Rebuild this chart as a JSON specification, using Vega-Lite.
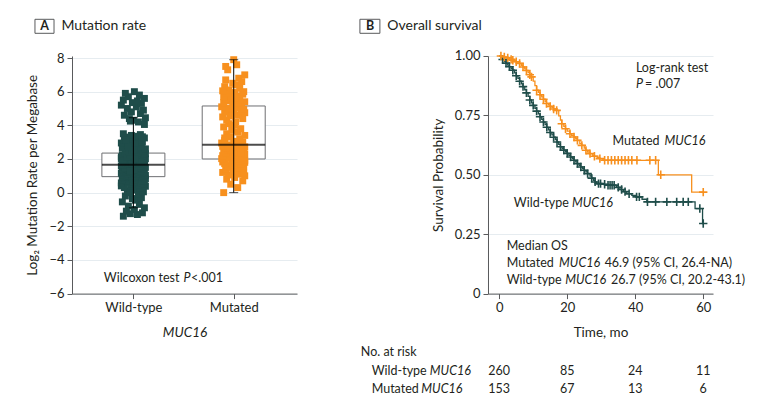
{
"$schema": "https://vega.github.io/schema/vega-lite/v6.json",
"padding": {"left": 25, "top": 18, "right": 5, "bottom": 5},
"bounds": "flush",
"spacing": 191,
"config": {
  "font": "Lato",
  "view": {"stroke": null},
  "axis": {"labelFont": "Lato", "labelFontSize": 13, "labelColor": "#231f20", "titleFont": "Lato", "titleFontSize": 13.5, "titleFontWeight": "normal", "titleColor": "#231f20", "domainColor": "#58595b", "tickColor": "#58595b", "gridColor": "#e6ecf0", "tickSize": 5, "labelPadding": 3, "labelOverlap": false},
  "text": {"font": "Lato", "fontSize": 12.5, "color": "#231f20"}
},
"datasets": {
  "boxes": [
    {"group": "Wild-type", "pos": 1, "lo": -0.9, "q1": 0.95, "med": 1.65, "q3": 2.35, "hi": 4.45},
    {"group": "Mutated", "pos": 2, "lo": 0.0, "q1": 2.0, "med": 2.85, "q3": 5.15, "hi": 7.9}
  ],
  "points": [
    {"group":"Wild-type","pos":0.90,"value":-1.4},{"group":"Wild-type","pos":1.04,"value":-1.3},{"group":"Wild-type","pos":0.97,"value":-1.25},{"group":"Wild-type","pos":1.09,"value":-1.2},{"group":"Wild-type","pos":0.93,"value":-1.1},{"group":"Wild-type","pos":1.01,"value":-1.0},{"group":"Wild-type","pos":1.11,"value":-0.9},{"group":"Wild-type","pos":0.95,"value":-0.8},{"group":"Wild-type","pos":1.06,"value":-0.7},{"group":"Wild-type","pos":0.89,"value":-0.55},{"group":"Wild-type","pos":1.02,"value":-0.45},{"group":"Wild-type","pos":0.99,"value":-0.35},{"group":"Wild-type","pos":1.08,"value":-0.3},{"group":"Wild-type","pos":0.92,"value":-0.2},{"group":"Wild-type","pos":1.05,"value":-0.1},{"group":"Wild-type","pos":0.96,"value":0.0},{"group":"Wild-type","pos":1.10,"value":0.05},{"group":"Wild-type","pos":0.94,"value":0.1},{"group":"Wild-type","pos":1.03,"value":0.15},{"group":"Wild-type","pos":1.00,"value":0.2},{"group":"Wild-type","pos":1.07,"value":0.25},{"group":"Wild-type","pos":0.91,"value":0.3},{"group":"Wild-type","pos":0.98,"value":0.32},{"group":"Wild-type","pos":1.12,"value":0.38},{"group":"Wild-type","pos":0.88,"value":0.4},
    {"group":"Wild-type","pos":1.06,"value":0.45},{"group":"Wild-type","pos":0.91,"value":0.48},{"group":"Wild-type","pos":1.11,"value":0.5},{"group":"Wild-type","pos":0.98,"value":0.52},{"group":"Wild-type","pos":1.03,"value":0.55},{"group":"Wild-type","pos":0.88,"value":0.58},{"group":"Wild-type","pos":1.08,"value":0.6},{"group":"Wild-type","pos":0.95,"value":0.62},{"group":"Wild-type","pos":1.00,"value":0.65},{"group":"Wild-type","pos":1.10,"value":0.67},{"group":"Wild-type","pos":0.93,"value":0.7},{"group":"Wild-type","pos":1.04,"value":0.72},{"group":"Wild-type","pos":0.89,"value":0.74},{"group":"Wild-type","pos":1.01,"value":0.76},{"group":"Wild-type","pos":1.09,"value":0.78},{"group":"Wild-type","pos":0.96,"value":0.8},{"group":"Wild-type","pos":1.12,"value":0.82},{"group":"Wild-type","pos":0.92,"value":0.84},{"group":"Wild-type","pos":1.05,"value":0.86},{"group":"Wild-type","pos":0.99,"value":0.88},{"group":"Wild-type","pos":1.07,"value":0.9},{"group":"Wild-type","pos":0.90,"value":0.92},{"group":"Wild-type","pos":1.02,"value":0.93},{"group":"Wild-type","pos":0.94,"value":0.94},{"group":"Wild-type","pos":0.97,"value":0.0},
    {"group":"Wild-type","pos":0.96,"value":0.96},{"group":"Wild-type","pos":1.10,"value":0.98},{"group":"Wild-type","pos":0.92,"value":1.0},{"group":"Wild-type","pos":1.02,"value":1.01},{"group":"Wild-type","pos":1.12,"value":1.03},{"group":"Wild-type","pos":0.89,"value":1.05},{"group":"Wild-type","pos":1.05,"value":1.06},{"group":"Wild-type","pos":0.99,"value":1.08},{"group":"Wild-type","pos":1.08,"value":1.1},{"group":"Wild-type","pos":0.94,"value":1.11},{"group":"Wild-type","pos":1.03,"value":1.13},{"group":"Wild-type","pos":0.88,"value":1.15},{"group":"Wild-type","pos":1.09,"value":1.16},{"group":"Wild-type","pos":1.00,"value":1.18},{"group":"Wild-type","pos":0.91,"value":1.2},{"group":"Wild-type","pos":1.06,"value":1.21},{"group":"Wild-type","pos":0.97,"value":1.23},{"group":"Wild-type","pos":1.11,"value":1.25},{"group":"Wild-type","pos":0.93,"value":1.26},{"group":"Wild-type","pos":1.04,"value":1.28},{"group":"Wild-type","pos":0.98,"value":1.3},{"group":"Wild-type","pos":1.07,"value":1.31},{"group":"Wild-type","pos":0.90,"value":1.33},{"group":"Wild-type","pos":1.01,"value":1.35},{"group":"Wild-type","pos":0.95,"value":1.36},
    {"group":"Wild-type","pos":1.02,"value":1.38},{"group":"Wild-type","pos":0.93,"value":1.4},{"group":"Wild-type","pos":1.09,"value":1.41},{"group":"Wild-type","pos":0.89,"value":1.43},{"group":"Wild-type","pos":1.05,"value":1.45},{"group":"Wild-type","pos":1.00,"value":1.46},{"group":"Wild-type","pos":0.96,"value":1.48},{"group":"Wild-type","pos":1.12,"value":1.5},{"group":"Wild-type","pos":0.91,"value":1.51},{"group":"Wild-type","pos":1.07,"value":1.52},{"group":"Wild-type","pos":0.98,"value":1.54},{"group":"Wild-type","pos":1.10,"value":1.55},{"group":"Wild-type","pos":0.94,"value":1.56},{"group":"Wild-type","pos":1.03,"value":1.58},{"group":"Wild-type","pos":0.88,"value":1.59},{"group":"Wild-type","pos":1.08,"value":1.6},{"group":"Wild-type","pos":0.99,"value":1.61},{"group":"Wild-type","pos":1.04,"value":1.62},{"group":"Wild-type","pos":0.90,"value":1.63},{"group":"Wild-type","pos":1.11,"value":1.64},{"group":"Wild-type","pos":0.95,"value":1.64},{"group":"Wild-type","pos":1.06,"value":1.57},{"group":"Wild-type","pos":0.92,"value":1.47},{"group":"Wild-type","pos":1.01,"value":1.37},{"group":"Wild-type","pos":0.97,"value":1.27},
    {"group":"Wild-type","pos":0.90,"value":1.66},{"group":"Wild-type","pos":1.04,"value":1.68},{"group":"Wild-type","pos":0.97,"value":1.69},{"group":"Wild-type","pos":1.09,"value":1.7},{"group":"Wild-type","pos":0.93,"value":1.72},{"group":"Wild-type","pos":1.01,"value":1.73},{"group":"Wild-type","pos":1.11,"value":1.75},{"group":"Wild-type","pos":0.95,"value":1.76},{"group":"Wild-type","pos":1.06,"value":1.78},{"group":"Wild-type","pos":0.89,"value":1.79},{"group":"Wild-type","pos":1.02,"value":1.8},{"group":"Wild-type","pos":0.99,"value":1.82},{"group":"Wild-type","pos":1.08,"value":1.84},{"group":"Wild-type","pos":0.92,"value":1.85},{"group":"Wild-type","pos":1.05,"value":1.87},{"group":"Wild-type","pos":0.96,"value":1.88},{"group":"Wild-type","pos":1.10,"value":1.9},{"group":"Wild-type","pos":0.94,"value":1.92},{"group":"Wild-type","pos":1.03,"value":1.93},{"group":"Wild-type","pos":1.00,"value":1.95},{"group":"Wild-type","pos":1.07,"value":1.96},{"group":"Wild-type","pos":0.91,"value":1.98},{"group":"Wild-type","pos":0.98,"value":2.0},{"group":"Wild-type","pos":1.12,"value":2.01},{"group":"Wild-type","pos":0.88,"value":2.03},
    {"group":"Wild-type","pos":1.06,"value":2.05},{"group":"Wild-type","pos":0.91,"value":2.06},{"group":"Wild-type","pos":1.11,"value":2.08},{"group":"Wild-type","pos":0.98,"value":2.1},{"group":"Wild-type","pos":1.03,"value":2.11},{"group":"Wild-type","pos":0.88,"value":2.13},{"group":"Wild-type","pos":1.08,"value":2.15},{"group":"Wild-type","pos":0.95,"value":2.16},{"group":"Wild-type","pos":1.00,"value":2.18},{"group":"Wild-type","pos":1.10,"value":2.2},{"group":"Wild-type","pos":0.93,"value":2.21},{"group":"Wild-type","pos":1.04,"value":2.23},{"group":"Wild-type","pos":0.89,"value":2.25},{"group":"Wild-type","pos":1.01,"value":2.26},{"group":"Wild-type","pos":1.09,"value":2.28},{"group":"Wild-type","pos":0.96,"value":2.3},{"group":"Wild-type","pos":1.12,"value":2.31},{"group":"Wild-type","pos":0.92,"value":2.33},{"group":"Wild-type","pos":1.05,"value":2.34},{"group":"Wild-type","pos":0.99,"value":1.71},{"group":"Wild-type","pos":1.07,"value":1.81},{"group":"Wild-type","pos":0.90,"value":1.91},{"group":"Wild-type","pos":1.02,"value":2.02},{"group":"Wild-type","pos":0.94,"value":2.12},{"group":"Wild-type","pos":0.97,"value":2.22},
    {"group":"Wild-type","pos":0.96,"value":2.4},{"group":"Wild-type","pos":1.10,"value":2.45},{"group":"Wild-type","pos":0.92,"value":2.5},{"group":"Wild-type","pos":1.02,"value":2.55},{"group":"Wild-type","pos":1.12,"value":2.6},{"group":"Wild-type","pos":0.89,"value":2.65},{"group":"Wild-type","pos":1.05,"value":2.7},{"group":"Wild-type","pos":0.99,"value":2.75},{"group":"Wild-type","pos":1.08,"value":2.8},{"group":"Wild-type","pos":0.94,"value":2.85},{"group":"Wild-type","pos":1.03,"value":2.9},{"group":"Wild-type","pos":0.88,"value":2.95},{"group":"Wild-type","pos":1.09,"value":3.0},{"group":"Wild-type","pos":1.00,"value":3.05},{"group":"Wild-type","pos":0.91,"value":3.1},{"group":"Wild-type","pos":1.06,"value":3.15},{"group":"Wild-type","pos":0.97,"value":3.2},{"group":"Wild-type","pos":1.11,"value":3.25},{"group":"Wild-type","pos":0.93,"value":3.3},{"group":"Wild-type","pos":1.04,"value":3.35},{"group":"Wild-type","pos":0.98,"value":3.4},{"group":"Wild-type","pos":1.07,"value":3.45},{"group":"Wild-type","pos":0.90,"value":3.5},{"group":"Wild-type","pos":1.01,"value":2.52},{"group":"Wild-type","pos":0.95,"value":2.72},
    {"group":"Wild-type","pos":1.02,"value":2.92},{"group":"Wild-type","pos":0.93,"value":3.12},{"group":"Wild-type","pos":1.09,"value":3.32},{"group":"Wild-type","pos":1.11,"value":4.05},{"group":"Wild-type","pos":1.05,"value":4.2},{"group":"Wild-type","pos":1.00,"value":4.3},{"group":"Wild-type","pos":0.96,"value":4.4},{"group":"Wild-type","pos":1.12,"value":4.45},{"group":"Wild-type","pos":0.91,"value":4.6},{"group":"Wild-type","pos":1.07,"value":4.7},{"group":"Wild-type","pos":0.98,"value":4.8},{"group":"Wild-type","pos":1.10,"value":4.9},{"group":"Wild-type","pos":0.94,"value":5.0},{"group":"Wild-type","pos":1.03,"value":5.1},{"group":"Wild-type","pos":0.88,"value":5.2},{"group":"Wild-type","pos":1.08,"value":5.3},{"group":"Wild-type","pos":0.99,"value":5.35},{"group":"Wild-type","pos":1.04,"value":5.45},{"group":"Wild-type","pos":0.90,"value":5.5},{"group":"Wild-type","pos":1.11,"value":5.6},{"group":"Wild-type","pos":0.95,"value":5.7},{"group":"Wild-type","pos":1.06,"value":5.8},{"group":"Wild-type","pos":0.92,"value":5.9},{"group":"Wild-type","pos":1.01,"value":6.0},{"group":"Wild-type","pos":0.97,"value":4.25},
    {"group":"Mutated","pos":1.90,"value":0.0},{"group":"Mutated","pos":2.04,"value":0.3},{"group":"Mutated","pos":1.97,"value":0.5},{"group":"Mutated","pos":2.09,"value":0.7},{"group":"Mutated","pos":1.93,"value":0.8},{"group":"Mutated","pos":2.01,"value":0.9},{"group":"Mutated","pos":2.11,"value":1.0},{"group":"Mutated","pos":1.95,"value":1.05},{"group":"Mutated","pos":2.06,"value":1.1},{"group":"Mutated","pos":1.89,"value":1.2},{"group":"Mutated","pos":2.02,"value":1.25},{"group":"Mutated","pos":1.99,"value":1.3},{"group":"Mutated","pos":2.08,"value":1.35},{"group":"Mutated","pos":1.92,"value":1.4},{"group":"Mutated","pos":2.05,"value":1.45},{"group":"Mutated","pos":1.96,"value":1.5},{"group":"Mutated","pos":2.10,"value":1.55},{"group":"Mutated","pos":1.94,"value":1.6},{"group":"Mutated","pos":2.03,"value":1.62},{"group":"Mutated","pos":2.00,"value":1.65},{"group":"Mutated","pos":2.07,"value":1.7},{"group":"Mutated","pos":1.91,"value":1.72},{"group":"Mutated","pos":1.98,"value":1.75},{"group":"Mutated","pos":2.11,"value":1.8},{"group":"Mutated","pos":1.89,"value":1.82},
    {"group":"Mutated","pos":2.06,"value":1.85},{"group":"Mutated","pos":1.91,"value":1.9},{"group":"Mutated","pos":2.11,"value":1.92},{"group":"Mutated","pos":1.98,"value":1.95},{"group":"Mutated","pos":2.03,"value":1.98},{"group":"Mutated","pos":1.88,"value":2.02},{"group":"Mutated","pos":2.08,"value":2.05},{"group":"Mutated","pos":1.95,"value":2.08},{"group":"Mutated","pos":2.00,"value":2.1},{"group":"Mutated","pos":2.10,"value":2.13},{"group":"Mutated","pos":1.93,"value":2.15},{"group":"Mutated","pos":2.04,"value":2.18},{"group":"Mutated","pos":1.89,"value":2.2},{"group":"Mutated","pos":2.01,"value":2.23},{"group":"Mutated","pos":2.09,"value":2.25},{"group":"Mutated","pos":1.96,"value":2.28},{"group":"Mutated","pos":2.11,"value":2.3},{"group":"Mutated","pos":1.92,"value":2.33},{"group":"Mutated","pos":2.05,"value":2.36},{"group":"Mutated","pos":1.99,"value":2.4},{"group":"Mutated","pos":2.07,"value":2.43},{"group":"Mutated","pos":1.90,"value":2.46},{"group":"Mutated","pos":2.02,"value":2.5},{"group":"Mutated","pos":1.94,"value":2.53},{"group":"Mutated","pos":1.97,"value":2.56},
    {"group":"Mutated","pos":1.96,"value":2.6},{"group":"Mutated","pos":2.10,"value":2.63},{"group":"Mutated","pos":1.92,"value":2.66},{"group":"Mutated","pos":2.02,"value":2.7},{"group":"Mutated","pos":2.11,"value":2.72},{"group":"Mutated","pos":1.89,"value":2.75},{"group":"Mutated","pos":2.05,"value":2.78},{"group":"Mutated","pos":1.99,"value":2.8},{"group":"Mutated","pos":2.08,"value":2.82},{"group":"Mutated","pos":1.94,"value":2.84},{"group":"Mutated","pos":2.03,"value":2.9},{"group":"Mutated","pos":1.88,"value":2.95},{"group":"Mutated","pos":2.09,"value":3.0},{"group":"Mutated","pos":2.00,"value":3.05},{"group":"Mutated","pos":1.91,"value":3.1},{"group":"Mutated","pos":2.06,"value":3.2},{"group":"Mutated","pos":1.97,"value":3.3},{"group":"Mutated","pos":2.11,"value":3.4},{"group":"Mutated","pos":1.93,"value":3.5},{"group":"Mutated","pos":2.04,"value":3.6},{"group":"Mutated","pos":1.98,"value":3.7},{"group":"Mutated","pos":2.07,"value":3.8},{"group":"Mutated","pos":1.90,"value":3.9},{"group":"Mutated","pos":2.01,"value":4.0},{"group":"Mutated","pos":1.95,"value":4.1},
    {"group":"Mutated","pos":2.02,"value":4.2},{"group":"Mutated","pos":1.93,"value":4.3},{"group":"Mutated","pos":2.09,"value":4.4},{"group":"Mutated","pos":1.89,"value":4.5},{"group":"Mutated","pos":2.05,"value":4.6},{"group":"Mutated","pos":2.00,"value":4.65},{"group":"Mutated","pos":1.96,"value":4.7},{"group":"Mutated","pos":2.11,"value":4.75},{"group":"Mutated","pos":1.91,"value":4.8},{"group":"Mutated","pos":2.07,"value":4.85},{"group":"Mutated","pos":1.98,"value":4.9},{"group":"Mutated","pos":2.10,"value":4.95},{"group":"Mutated","pos":1.94,"value":5.0},{"group":"Mutated","pos":2.03,"value":5.05},{"group":"Mutated","pos":1.88,"value":5.1},{"group":"Mutated","pos":2.08,"value":5.2},{"group":"Mutated","pos":1.99,"value":5.25},{"group":"Mutated","pos":2.04,"value":5.3},{"group":"Mutated","pos":1.90,"value":5.35},{"group":"Mutated","pos":2.11,"value":5.4},{"group":"Mutated","pos":1.95,"value":5.45},{"group":"Mutated","pos":2.06,"value":5.5},{"group":"Mutated","pos":1.92,"value":5.55},{"group":"Mutated","pos":2.01,"value":5.6},{"group":"Mutated","pos":1.97,"value":5.65},
    {"group":"Mutated","pos":1.90,"value":5.7},{"group":"Mutated","pos":2.04,"value":5.75},{"group":"Mutated","pos":1.97,"value":5.8},{"group":"Mutated","pos":2.09,"value":5.85},{"group":"Mutated","pos":1.93,"value":5.9},{"group":"Mutated","pos":2.01,"value":5.95},{"group":"Mutated","pos":2.10,"value":6.0},{"group":"Mutated","pos":1.95,"value":6.1},{"group":"Mutated","pos":2.06,"value":6.2},{"group":"Mutated","pos":1.91,"value":6.3},{"group":"Mutated","pos":2.02,"value":6.4},{"group":"Mutated","pos":1.99,"value":6.5},{"group":"Mutated","pos":2.08,"value":6.6},{"group":"Mutated","pos":1.92,"value":6.7},{"group":"Mutated","pos":2.05,"value":6.8},{"group":"Mutated","pos":2.11,"value":7.0},{"group":"Mutated","pos":1.94,"value":7.3},{"group":"Mutated","pos":1.92,"value":7.5},{"group":"Mutated","pos":2.03,"value":7.6},{"group":"Mutated","pos":2.00,"value":7.9},{"group":"Mutated","pos":2.07,"value":2.35},{"group":"Mutated","pos":1.91,"value":3.25},{"group":"Mutated","pos":1.98,"value":4.55},{"group":"Mutated","pos":2.10,"value":1.15},{"group":"Mutated","pos":1.89,"value":6.05}
  ],
  "km": [
    {"group":"Wild-type","time":0,"surv":1,"censor":0},{"group":"Wild-type","time":0.5,"surv":0.992,"censor":0},{"group":"Wild-type","time":1,"surv":0.985,"censor":1},{"group":"Wild-type","time":1.5,"surv":0.977,"censor":0},{"group":"Wild-type","time":2,"surv":0.97,"censor":1},{"group":"Wild-type","time":2.5,"surv":0.962,"censor":0},{"group":"Wild-type","time":3,"surv":0.955,"censor":1},{"group":"Wild-type","time":3.5,"surv":0.947,"censor":0},{"group":"Wild-type","time":4,"surv":0.94,"censor":1},{"group":"Wild-type","time":4.5,"surv":0.929,"censor":0},{"group":"Wild-type","time":5,"surv":0.917,"censor":1},{"group":"Wild-type","time":5.5,"surv":0.906,"censor":0},{"group":"Wild-type","time":6,"surv":0.894,"censor":1},{"group":"Wild-type","time":6.5,"surv":0.883,"censor":0},{"group":"Wild-type","time":7,"surv":0.871,"censor":1},{"group":"Wild-type","time":7.5,"surv":0.858,"censor":0},{"group":"Wild-type","time":8,"surv":0.845,"censor":1},{"group":"Wild-type","time":8.5,"surv":0.83,"censor":0},{"group":"Wild-type","time":9,"surv":0.815,"censor":1},{"group":"Wild-type","time":9.5,"surv":0.803,"censor":0},{"group":"Wild-type","time":10,"surv":0.792,"censor":1},{"group":"Wild-type","time":10.5,"surv":0.78,"censor":0},{"group":"Wild-type","time":11,"surv":0.768,"censor":1},{"group":"Wild-type","time":11.5,"surv":0.756,"censor":0},{"group":"Wild-type","time":12,"surv":0.744,"censor":1},{"group":"Wild-type","time":12.5,"surv":0.733,"censor":0},{"group":"Wild-type","time":13,"surv":0.722,"censor":1},{"group":"Wild-type","time":13.5,"surv":0.711,"censor":0},{"group":"Wild-type","time":14,"surv":0.7,"censor":1},{"group":"Wild-type","time":14.5,"surv":0.689,"censor":0},{"group":"Wild-type","time":15,"surv":0.678,"censor":1},{"group":"Wild-type","time":15.5,"surv":0.668,"censor":0},{"group":"Wild-type","time":16,"surv":0.658,"censor":1},{"group":"Wild-type","time":16.5,"surv":0.648,"censor":0},{"group":"Wild-type","time":17,"surv":0.638,"censor":1},{"group":"Wild-type","time":17.5,"surv":0.628,"censor":0},{"group":"Wild-type","time":18,"surv":0.618,"censor":1},{"group":"Wild-type","time":18.5,"surv":0.611,"censor":0},{"group":"Wild-type","time":19,"surv":0.604,"censor":1},{"group":"Wild-type","time":19.5,"surv":0.597,"censor":0},{"group":"Wild-type","time":20,"surv":0.59,"censor":1},{"group":"Wild-type","time":20.5,"surv":0.582,"censor":0},{"group":"Wild-type","time":21,"surv":0.575,"censor":1},{"group":"Wild-type","time":21.5,"surv":0.568,"censor":0},{"group":"Wild-type","time":22,"surv":0.561,"censor":1},{"group":"Wild-type","time":22.5,"surv":0.554,"censor":0},{"group":"Wild-type","time":23,"surv":0.547,"censor":1},{"group":"Wild-type","time":23.5,"surv":0.54,"censor":0},{"group":"Wild-type","time":24,"surv":0.533,"censor":1},{"group":"Wild-type","time":24.5,"surv":0.526,"censor":0},{"group":"Wild-type","time":25,"surv":0.519,"censor":1},{"group":"Wild-type","time":25.5,"surv":0.512,"censor":0},{"group":"Wild-type","time":26,"surv":0.505,"censor":1},{"group":"Wild-type","time":26.7,"surv":0.495,"censor":0},{"group":"Wild-type","time":27.2,"surv":0.486,"censor":1},{"group":"Wild-type","time":27.7,"surv":0.477,"censor":0},{"group":"Wild-type","time":28.2,"surv":0.47,"censor":1},{"group":"Wild-type","time":28.6,"surv":0.463,"censor":0},{"group":"Wild-type","time":29.2,"surv":0.463,"censor":1},{"group":"Wild-type","time":29.8,"surv":0.463,"censor":1},{"group":"Wild-type","time":30.4,"surv":0.46,"censor":0},{"group":"Wild-type","time":31,"surv":0.46,"censor":1},{"group":"Wild-type","time":31.5,"surv":0.456,"censor":0},{"group":"Wild-type","time":32,"surv":0.456,"censor":1},{"group":"Wild-type","time":32.6,"surv":0.456,"censor":1},{"group":"Wild-type","time":33.2,"surv":0.456,"censor":1},{"group":"Wild-type","time":33.8,"surv":0.456,"censor":1},{"group":"Wild-type","time":34.5,"surv":0.447,"censor":0},{"group":"Wild-type","time":35,"surv":0.447,"censor":1},{"group":"Wild-type","time":35.5,"surv":0.438,"censor":0},{"group":"Wild-type","time":36,"surv":0.438,"censor":1},{"group":"Wild-type","time":36.5,"surv":0.429,"censor":0},{"group":"Wild-type","time":37,"surv":0.429,"censor":1},{"group":"Wild-type","time":37.5,"surv":0.42,"censor":0},{"group":"Wild-type","time":38.2,"surv":0.42,"censor":1},{"group":"Wild-type","time":39,"surv":0.413,"censor":0},{"group":"Wild-type","time":40.4,"surv":0.407,"censor":1},{"group":"Wild-type","time":41.2,"surv":0.407,"censor":1},{"group":"Wild-type","time":42,"surv":0.397,"censor":0},{"group":"Wild-type","time":43.4,"surv":0.386,"censor":0},{"group":"Wild-type","time":43.6,"surv":0.386,"censor":1},{"group":"Wild-type","time":46,"surv":0.386,"censor":1},{"group":"Wild-type","time":49.3,"surv":0.386,"censor":1},{"group":"Wild-type","time":52.2,"surv":0.386,"censor":1},{"group":"Wild-type","time":54.1,"surv":0.386,"censor":1},{"group":"Wild-type","time":55.6,"surv":0.386,"censor":1},{"group":"Wild-type","time":57.6,"surv":0.358,"censor":0},{"group":"Wild-type","time":59,"surv":0.358,"censor":1},{"group":"Wild-type","time":59.8,"surv":0.295,"censor":0},{"group":"Wild-type","time":60,"surv":0.295,"censor":1},
    {"group":"Mutated","time":0,"surv":1,"censor":0},{"group":"Mutated","time":0.5,"surv":1,"censor":1},{"group":"Mutated","time":1,"surv":0.996,"censor":0},{"group":"Mutated","time":1.5,"surv":0.996,"censor":1},{"group":"Mutated","time":2,"surv":0.992,"censor":0},{"group":"Mutated","time":2.5,"surv":0.992,"censor":1},{"group":"Mutated","time":3,"surv":0.986,"censor":0},{"group":"Mutated","time":3.5,"surv":0.986,"censor":1},{"group":"Mutated","time":4,"surv":0.982,"censor":1},{"group":"Mutated","time":4.5,"surv":0.976,"censor":0},{"group":"Mutated","time":5,"surv":0.976,"censor":1},{"group":"Mutated","time":5.5,"surv":0.969,"censor":0},{"group":"Mutated","time":6,"surv":0.969,"censor":1},{"group":"Mutated","time":6.5,"surv":0.961,"censor":0},{"group":"Mutated","time":7,"surv":0.954,"censor":1},{"group":"Mutated","time":7.5,"surv":0.946,"censor":0},{"group":"Mutated","time":8,"surv":0.939,"censor":1},{"group":"Mutated","time":8.5,"surv":0.93,"censor":0},{"group":"Mutated","time":9,"surv":0.921,"censor":1},{"group":"Mutated","time":9.5,"surv":0.912,"censor":1},{"group":"Mutated","time":10,"surv":0.894,"censor":0},{"group":"Mutated","time":10.5,"surv":0.875,"censor":0},{"group":"Mutated","time":11,"surv":0.856,"censor":1},{"group":"Mutated","time":11.5,"surv":0.847,"censor":0},{"group":"Mutated","time":12,"surv":0.837,"censor":1},{"group":"Mutated","time":12.5,"surv":0.828,"censor":0},{"group":"Mutated","time":13,"surv":0.818,"censor":1},{"group":"Mutated","time":13.5,"surv":0.809,"censor":0},{"group":"Mutated","time":13.9,"surv":0.8,"censor":1},{"group":"Mutated","time":14.5,"surv":0.794,"censor":0},{"group":"Mutated","time":15,"surv":0.788,"censor":1},{"group":"Mutated","time":15.5,"surv":0.783,"censor":0},{"group":"Mutated","time":16,"surv":0.777,"censor":1},{"group":"Mutated","time":16.9,"surv":0.771,"censor":1},{"group":"Mutated","time":17.5,"surv":0.748,"censor":0},{"group":"Mutated","time":18,"surv":0.73,"censor":0},{"group":"Mutated","time":18.4,"surv":0.715,"censor":1},{"group":"Mutated","time":19,"surv":0.704,"censor":0},{"group":"Mutated","time":19.5,"surv":0.694,"censor":1},{"group":"Mutated","time":20,"surv":0.684,"censor":0},{"group":"Mutated","time":20.8,"surv":0.673,"censor":1},{"group":"Mutated","time":21.3,"surv":0.666,"censor":0},{"group":"Mutated","time":22,"surv":0.659,"censor":1},{"group":"Mutated","time":22.5,"surv":0.652,"censor":0},{"group":"Mutated","time":23,"surv":0.645,"censor":1},{"group":"Mutated","time":23.7,"surv":0.631,"censor":0},{"group":"Mutated","time":24.3,"surv":0.624,"censor":1},{"group":"Mutated","time":25,"surv":0.612,"censor":0},{"group":"Mutated","time":25.5,"surv":0.603,"censor":1},{"group":"Mutated","time":26,"surv":0.596,"censor":0},{"group":"Mutated","time":26.7,"surv":0.589,"censor":1},{"group":"Mutated","time":27.5,"surv":0.582,"censor":0},{"group":"Mutated","time":28,"surv":0.578,"censor":1},{"group":"Mutated","time":28.8,"surv":0.572,"censor":0},{"group":"Mutated","time":29.6,"surv":0.568,"censor":1},{"group":"Mutated","time":30.5,"surv":0.561,"censor":0},{"group":"Mutated","time":31,"surv":0.561,"censor":1},{"group":"Mutated","time":32,"surv":0.561,"censor":1},{"group":"Mutated","time":33,"surv":0.561,"censor":1},{"group":"Mutated","time":34,"surv":0.561,"censor":1},{"group":"Mutated","time":35,"surv":0.561,"censor":1},{"group":"Mutated","time":36,"surv":0.561,"censor":1},{"group":"Mutated","time":37,"surv":0.561,"censor":1},{"group":"Mutated","time":38,"surv":0.561,"censor":1},{"group":"Mutated","time":39,"surv":0.561,"censor":1},{"group":"Mutated","time":40.5,"surv":0.561,"censor":1},{"group":"Mutated","time":44.3,"surv":0.561,"censor":1},{"group":"Mutated","time":46,"surv":0.561,"censor":1},{"group":"Mutated","time":46.8,"surv":0.5,"censor":0},{"group":"Mutated","time":47.5,"surv":0.5,"censor":1},{"group":"Mutated","time":56.6,"surv":0.427,"censor":0},{"group":"Mutated","time":60,"surv":0.427,"censor":1}
  ],
  "risk": [
    {"group":"Wild-type","time":0,"n":260},{"group":"Wild-type","time":20,"n":85},{"group":"Wild-type","time":40,"n":24},{"group":"Wild-type","time":60,"n":11},
    {"group":"Mutated","time":0,"n":153},{"group":"Mutated","time":20,"n":67},{"group":"Mutated","time":40,"n":13},{"group":"Mutated","time":60,"n":6}
  ]
},
"hconcat": [
  {
    "width": 225, "height": 237.6,
    "data": {"values": [{}]},
    "layer": [
      {"data": {"name": "boxes"}, "mark": {"type": "bar", "size": 63, "fill": "white", "stroke": "#6d6e71", "strokeWidth": 1},
       "encoding": {
         "x": {"field": "pos", "type": "quantitative", "scale": {"domain": [0.438, 2.581], "nice": false, "zero": false},
               "axis": {"values": [1, 2], "labelExpr": "datum.value == 1 ? 'Wild-type' : 'Mutated'", "title": "MUC16", "titleFontStyle": "italic", "grid": false, "labelPadding": 3, "titlePadding": 11, "labelOverlap": false}},
         "y": {"field": "q1", "type": "quantitative", "scale": {"domain": [-6, 8.12], "nice": false, "zero": false},
               "axis": {"values": [-6, -4, -2, 0, 2, 4, 6, 8], "tickCount": 8, "title": "Log₂ Mutation Rate per Megabase", "grid": true, "titlePadding": 9, "labelOverlap": false, "labelBound": false}},
         "y2": {"field": "q3"}}},
      {"data": {"name": "points"}, "mark": {"type": "square", "size": 48, "opacity": 1},
       "encoding": {
         "x": {"field": "pos", "type": "quantitative"},
         "y": {"field": "value", "type": "quantitative"},
         "color": {"field": "group", "type": "nominal", "scale": {"domain": ["Wild-type", "Mutated"], "range": ["#1f4d4a", "#f7901e"]}, "legend": null}}},
      {"data": {"name": "boxes"}, "mark": {"type": "tick", "orient": "horizontal", "size": 63, "thickness": 2, "color": "#000000"},
       "encoding": {"x": {"field": "pos", "type": "quantitative"}, "y": {"field": "med", "type": "quantitative"}}},
      {"data": {"name": "boxes"}, "mark": {"type": "rule", "color": "#000000", "strokeWidth": 1},
       "encoding": {"x": {"field": "pos", "type": "quantitative"}, "y": {"field": "lo", "type": "quantitative"}, "y2": {"field": "hi"}}},
      {"data": {"name": "boxes"}, "mark": {"type": "tick", "orient": "horizontal", "size": 9, "thickness": 1, "color": "#000000"},
       "encoding": {"x": {"field": "pos", "type": "quantitative"}, "y": {"field": "lo", "type": "quantitative"}}},
      {"data": {"name": "boxes"}, "mark": {"type": "tick", "orient": "horizontal", "size": 9, "thickness": 1, "color": "#000000"},
       "encoding": {"x": {"field": "pos", "type": "quantitative"}, "y": {"field": "hi", "type": "quantitative"}}},
      {"mark": {"type": "rect", "fill": "white", "stroke": "#58595b", "strokeWidth": 1},
       "encoding": {"x": {"datum": 0.019}, "x2": {"datum": 0.209}, "y": {"datum": 10.301}, "y2": {"datum": 9.469}}},
      {"mark": {"type": "text", "fontWeight": "bold", "fontSize": 12.5, "align": "center", "baseline": "middle"},
       "encoding": {"x": {"datum": 0.114}, "y": {"datum": 9.885}, "text": {"value": "A"}}},
      {"mark": {"type": "text", "fontSize": 14, "align": "left", "baseline": "middle"},
       "encoding": {"x": {"datum": 0.283}, "y": {"datum": 9.885}, "text": {"value": "Mutation rate"}}},
      {"mark": {"type": "text", "align": "left", "baseline": "middle"},
       "encoding": {"x": {"datum": 0.705}, "y": {"datum": -5.09}, "text": {"value": "Wilcoxon test"}}},
      {"mark": {"type": "text", "align": "left", "baseline": "middle", "fontStyle": "italic"},
       "encoding": {"x": {"datum": 1.5}, "y": {"datum": -5.09}, "text": {"value": "P"}}},
      {"mark": {"type": "text", "align": "left", "baseline": "middle"},
       "encoding": {"x": {"datum": 1.575}, "y": {"datum": -5.09}, "text": {"value": "<.001"}}}
    ]
  },
  {
    "width": 225, "height": 237.6,
    "data": {"values": [{}]},
    "layer": [
      {"data": {"name": "km"}, "mark": {"type": "line", "interpolate": "step-after", "strokeWidth": 1.3},
       "encoding": {
         "x": {"field": "time", "type": "quantitative", "scale": {"domain": [-3.3, 62.87], "nice": false, "zero": false},
               "axis": {"values": [0, 20, 40, 60], "title": "Time, mo", "grid": false, "labelPadding": 3, "titlePadding": 11}},
         "y": {"field": "surv", "type": "quantitative", "scale": {"domain": [0, 1], "nice": false},
               "axis": {"values": [0, 0.25, 0.5, 0.75, 1], "labelExpr": "datum.value == 0 ? '0' : format(datum.value, '.2f')", "title": "Survival Probability", "grid": true, "titlePadding": 9}},
         "color": {"field": "group", "type": "nominal", "legend": null}}},
      {"data": {"name": "km"}, "transform": [{"filter": "datum.censor == 1"}],
       "mark": {"type": "point", "shape": "M-1,0H1M0,-1V1", "filled": false, "size": 70, "strokeWidth": 1.6, "opacity": 1},
       "encoding": {
         "x": {"field": "time", "type": "quantitative"},
         "y": {"field": "surv", "type": "quantitative"},
         "color": {"field": "group", "type": "nominal", "legend": null}}},
      {"mark": {"type": "rect", "fill": "white", "stroke": "#58595b", "strokeWidth": 1},
       "encoding": {"x": {"datum": -40.97}, "x2": {"datum": -35.09}, "y": {"datum": 1.1545}, "y2": {"datum": 1.0955}}},
      {"mark": {"type": "text", "fontWeight": "bold", "fontSize": 12.5, "align": "center", "baseline": "middle"},
       "encoding": {"x": {"datum": -38.0}, "y": {"datum": 1.125}, "text": {"value": "B"}}},
      {"mark": {"type": "text", "fontSize": 14, "align": "left", "baseline": "middle"},
       "encoding": {"x": {"datum": -32.9}, "y": {"datum": 1.125}, "text": {"value": "Overall survival"}}},
      {"mark": {"type": "text", "align": "left", "baseline": "middle"},
       "encoding": {"x": {"datum": 40.2}, "y": {"datum": 0.948}, "text": {"value": "Log-rank test"}}},
      {"mark": {"type": "text", "align": "left", "baseline": "middle", "fontStyle": "italic"},
       "encoding": {"x": {"datum": 40.2}, "y": {"datum": 0.881}, "text": {"value": "P"}}},
      {"mark": {"type": "text", "align": "left", "baseline": "middle"},
       "encoding": {"x": {"datum": 42.9}, "y": {"datum": 0.881}, "text": {"value": "= .007"}}},
      {"mark": {"type": "text", "align": "left", "baseline": "middle"},
       "encoding": {"x": {"datum": 33.3}, "y": {"datum": 0.641}, "text": {"value": "Mutated"}}},
      {"mark": {"type": "text", "align": "left", "baseline": "middle", "fontStyle": "italic"},
       "encoding": {"x": {"datum": 48.6}, "y": {"datum": 0.641}, "text": {"value": "MUC16"}}},
      {"mark": {"type": "text", "align": "left", "baseline": "middle"},
       "encoding": {"x": {"datum": 4.3}, "y": {"datum": 0.38}, "text": {"value": "Wild-type"}}},
      {"mark": {"type": "text", "align": "left", "baseline": "middle", "fontStyle": "italic"},
       "encoding": {"x": {"datum": 21.4}, "y": {"datum": 0.38}, "text": {"value": "MUC16"}}},
      {"mark": {"type": "text", "align": "left", "baseline": "middle"},
       "encoding": {"x": {"datum": 2.2}, "y": {"datum": 0.199}, "text": {"value": "Median OS"}}},
      {"mark": {"type": "text", "align": "left", "baseline": "middle"},
       "encoding": {"x": {"datum": 2.2}, "y": {"datum": 0.128}, "text": {"value": "Mutated"}}},
      {"mark": {"type": "text", "align": "left", "baseline": "middle", "fontStyle": "italic"},
       "encoding": {"x": {"datum": 17.6}, "y": {"datum": 0.128}, "text": {"value": "MUC16"}}},
      {"mark": {"type": "text", "align": "left", "baseline": "middle"},
       "encoding": {"x": {"datum": 31.0}, "y": {"datum": 0.128}, "text": {"value": "46.9 (95% CI, 26.4-NA)"}}},
      {"mark": {"type": "text", "align": "left", "baseline": "middle"},
       "encoding": {"x": {"datum": 2.2}, "y": {"datum": 0.056}, "text": {"value": "Wild-type"}}},
      {"mark": {"type": "text", "align": "left", "baseline": "middle", "fontStyle": "italic"},
       "encoding": {"x": {"datum": 19.4}, "y": {"datum": 0.056}, "text": {"value": "MUC16"}}},
      {"mark": {"type": "text", "align": "left", "baseline": "middle"},
       "encoding": {"x": {"datum": 32.9}, "y": {"datum": 0.056}, "text": {"value": "26.7 (95% CI, 20.2-43.1)"}}},
      {"mark": {"type": "text", "align": "left", "baseline": "middle"},
       "encoding": {"x": {"datum": -40.7}, "y": {"datum": -0.247}, "text": {"value": "No. at risk"}}},
      {"mark": {"type": "text", "align": "left", "baseline": "middle"},
       "encoding": {"x": {"datum": -37.5}, "y": {"datum": -0.327}, "text": {"value": "Wild-type"}}},
      {"mark": {"type": "text", "align": "left", "baseline": "middle", "fontStyle": "italic"},
       "encoding": {"x": {"datum": -20.4}, "y": {"datum": -0.327}, "text": {"value": "MUC16"}}},
      {"mark": {"type": "text", "align": "left", "baseline": "middle"},
       "encoding": {"x": {"datum": -37.5}, "y": {"datum": -0.402}, "text": {"value": "Mutated"}}},
      {"mark": {"type": "text", "align": "left", "baseline": "middle", "fontStyle": "italic"},
       "encoding": {"x": {"datum": -22.9}, "y": {"datum": -0.402}, "text": {"value": "MUC16"}}},
      {"data": {"name": "risk"}, "transform": [{"filter": "datum.group == 'Wild-type'"}],
       "mark": {"type": "text", "align": "center", "baseline": "middle"},
       "encoding": {"x": {"field": "time", "type": "quantitative"}, "y": {"datum": -0.327}, "text": {"field": "n", "type": "quantitative"}}},
      {"data": {"name": "risk"}, "transform": [{"filter": "datum.group == 'Mutated'"}],
       "mark": {"type": "text", "align": "center", "baseline": "middle"},
       "encoding": {"x": {"field": "time", "type": "quantitative"}, "y": {"datum": -0.402}, "text": {"field": "n", "type": "quantitative"}}}
    ]
  }
]
}
